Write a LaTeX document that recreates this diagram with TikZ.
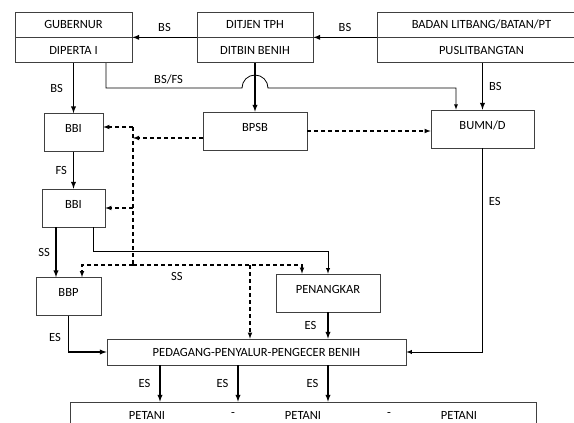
\documentclass[tikz,border=0pt]{standalone}
\usepackage{fontspec}
\setmainfont{Carlito}
\usetikzlibrary{arrows, positioning, calc}

\begin{document}
\begin{tikzpicture}[x=1pt, y=-1pt,
    box/.style={rectangle, draw=black!75, line width=0.7pt, text centered, inner sep=0pt, font=\fontsize{12.5}{14}\selectfont},
    half/.style={box, minimum height=25pt},
    tall/.style={box, minimum height=38pt, text depth=8pt},
    arrow/.style={-latex, line width=1.3pt},
    dasharrow/.style={-latex, line width=1.1pt, dash pattern=on 4pt off 3pt},
    lbl/.style={font=\fontsize{12.5}{14}\selectfont, inner sep=2pt}
]
    \useasboundingbox (0,0) rectangle (574,423);

    % top row
    \node [half, minimum width=117pt] (gub) at (73.5,24.5) {GUBERNUR};
    \node [half, minimum width=117pt, below=0pt of gub] (dip) {DIPERTA I};
    \node [half, minimum width=116pt] (ditjen) at (255,24.5) {DITJEN TPH};
    \node [half, minimum width=116pt, below=0pt of ditjen] (ditbin) {DITBIN BENIH};
    \node [half, minimum width=209pt] (badan) at (481.5,24.5) {BADAN LITBANG/BATAN/PT};
    \node [half, minimum width=209pt, below=0pt of badan] (pusl) {PUSLITBANGTAN};

    % middle
    \node [tall, minimum width=59pt] (bbi1) at (73.5,132.5) {BBI};
    \node [tall, minimum width=104pt] (bpsb) at (255,131) {BPSB};
    \node [tall, minimum width=103pt] (bumn) at (482.5,129) {BUMN/D};
    \node [tall, minimum width=63pt] (bbi2) at (73.5,208) {BBI};
    \node [tall, minimum width=65pt] (bbp) at (68.5,296.5) {BBP};
    \node [tall, minimum width=104pt] (pen) at (328,293) {PENANGKAR};

    % bottom
    \node [box, minimum width=299pt, minimum height=26pt] (ped) at (256.5,352) {PEDAGANG-PENYALUR-PENGECER BENIH};
    \node [box, minimum width=466pt, minimum height=40pt] (pet) at (303,422) {};
    \node [lbl] (pet1) at (147,415) {PETANI};
    \node [lbl] (sep1) at (233,415) {-};
    \node [lbl] (pet2) at (303,415) {PETANI};
    \node [lbl] (sep2) at (389,415) {-};
    \node [lbl] (pet3) at (459,415) {PETANI};

    \coordinate (hop) at (255,88);
    \coordinate (ttop) at (133,127);
    \coordinate (tbot) at (133,265);
    \coordinate (drop) at (250,265);
    \coordinate (bpsbin) at ([yshift=-7pt]bpsb.west);
    \coordinate (ssout) at ([xshift=-17.5pt]bbi2.south);
    \coordinate (c1) at (160,0);
    \coordinate (c2) at (238,0);
    \coordinate (c3) at (328,0);

    % solid flows
    \draw [arrow] (badan.south west) -- (ditbin.north east) node[lbl, midway, above=3pt] {BS};
    \draw [arrow] (ditjen.south west) -- (gub.south east) node[lbl, midway, above=3pt] {BS};
    \draw [arrow] (dip) -- (bbi1) node[lbl, midway, left=8pt] {BS};
    \draw [arrow, line width=0.8pt] ([xshift=32.5pt]dip.south) |- node[lbl, pos=0.73, above=2pt] {BS/FS} ([xshift=-13pt]hop)
        arc[start angle=180, end angle=0, radius=13pt] -| ([xshift=-26.5pt]bumn.north);
    \draw [arrow] (pusl.south -| bumn.north) -- (bumn.north) node[lbl, midway, right=4pt] {BS};
    \draw [arrow] (ditbin) -- (bpsb);
    \draw [arrow] (bbi1) -- (bbi2) node[lbl, midway, left=4pt] {FS};
    \draw [arrow] (ssout) -- (ssout |- bbp.north) node[lbl, midway, left=3.5pt] {SS};
    \draw [arrow, line width=0.9pt] ([xshift=19.5pt]bbi2.south) -- ++(0,24) -| (pen.north);
    \draw [arrow] (bbp.south) |- node[lbl, pos=0.3, left=5pt] {ES} (ped.west);
    \draw [arrow] (pen.south) -- (pen.south |- ped.north) node[lbl, midway, left=9pt] {ES};
    \draw [arrow, line width=0.9pt] (bumn.south) |- node[lbl, pos=0.13, right=4pt] {ES} (ped.east);
    \draw [arrow] (ped.south -| c1) -- (pet.north -| c1) node[lbl, midway, left=7pt] {ES};
    \draw [arrow] (ped.south -| c2) -- (pet.north -| c2) node[lbl, midway, left=7pt] {ES};
    \draw [arrow] (ped.south -| c3) -- (pet.north -| c3) node[lbl, midway, left=7pt] {ES};

    % dashed control lines
    \draw [dasharrow] (bpsb.east) -- (bpsb.east -| bumn.west);
    \draw [dasharrow, -] (ttop) -- (tbot);
    \draw [dasharrow] (bpsbin) -- (bpsbin -| ttop);
    \draw [dasharrow] (ttop) -- (ttop -| bbi1.east);
    \draw [dasharrow] (ttop |- bbi2.east) -- (bbi2.east);
    \draw [dasharrow] (tbot) -| ([xshift=13.5pt]bbp.north);
    \draw [dasharrow] (tbot) -| node[lbl, pos=0.13, below=5pt] {SS} ([xshift=-26pt]pen.north);
    \draw [dasharrow] (drop) -- (drop |- ped.north);
\end{tikzpicture}
\end{document}
